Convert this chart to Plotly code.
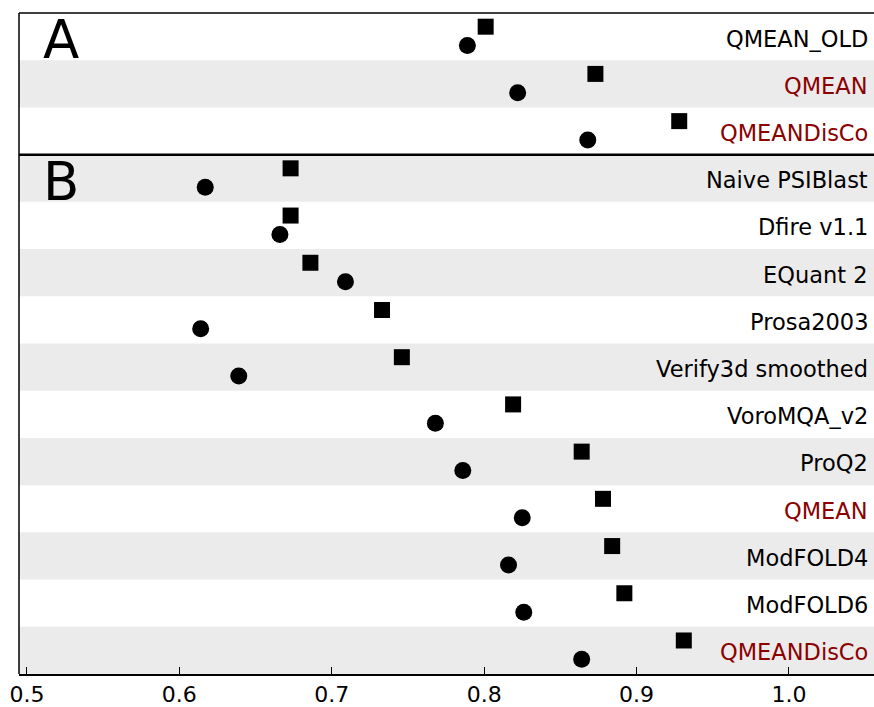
import plotly.graph_objects as go

labels = ["QMEAN_OLD", "QMEAN", "QMEANDisCo",
          "Naive PSIBlast", "Dfire v1.1", "EQuant 2", "Prosa2003",
          "Verify3d smoothed", "VoroMQA_v2", "ProQ2", "QMEAN",
          "ModFOLD4", "ModFOLD6", "QMEANDisCo"]
highlight = [False, True, True,
             False, False, False, False,
             False, False, False, True,
             False, False, True]
square_vals = [0.801, 0.873, 0.928,
               0.673, 0.673, 0.686, 0.733, 0.746, 0.819, 0.864,
               0.878, 0.884, 0.892, 0.931]
circle_vals = [0.789, 0.822, 0.868,
               0.617, 0.666, 0.709, 0.614, 0.639, 0.768, 0.786,
               0.825, 0.816, 0.826, 0.864]
x_ticks = [0.5, 0.6, 0.7, 0.8, 0.9, 1.0]
tick_text = ["0.5", "0.6", "0.7", "0.8", "0.9", "1.0"]
panel_labels = ["A", "B"]
panel_rows = [0, 3]

n = len(labels)
rows = list(range(n))

fig = go.Figure()

shapes = []
for i in rows:
    if i % 2 == 1:
        shapes.append(dict(type="rect", xref="paper", yref="y", x0=0, x1=1,
                           y0=i - 0.5, y1=i + 0.5, fillcolor="#EBEBEB",
                           line=dict(width=0), layer="below"))
# separator between panels
shapes.append(dict(type="line", xref="paper", yref="y", x0=0, x1=1,
                   y0=2.5, y1=2.5, line=dict(color="black", width=2.5)))
# frame: top and left
shapes.append(dict(type="line", xref="paper", yref="paper", x0=0, x1=1,
                   y0=1, y1=1, line=dict(color="black", width=1.5)))
shapes.append(dict(type="line", xref="paper", yref="paper", x0=0, x1=0,
                   y0=0, y1=1, line=dict(color="black", width=1.5)))

fig.add_trace(go.Scatter(
    x=square_vals, y=[r - 0.21 for r in rows], mode="markers",
    marker=dict(symbol="square", size=16, color="black"),
    showlegend=False, hoverinfo="skip"))
fig.add_trace(go.Scatter(
    x=circle_vals, y=[r + 0.19 for r in rows], mode="markers",
    marker=dict(symbol="circle", size=17, color="black"),
    showlegend=False, hoverinfo="skip"))

annotations = []
for i, (lab, hl) in enumerate(zip(labels, highlight)):
    annotations.append(dict(
        x=0.9955, xref="paper", y=i + 0.04, yref="y", text=lab,
        showarrow=False, xanchor="right", yanchor="middle",
        font=dict(family="DejaVu Sans", size=22.5,
                  color="#8B0000" if hl else "black")))
for lab, r in zip(panel_labels, panel_rows):
    annotations.append(dict(
        x=0.049, xref="paper", y=r + 0.06, yref="y", text=lab,
        showarrow=False, xanchor="center", yanchor="middle",
        font=dict(family="DejaVu Sans", size=53, color="black")))

fig.update_layout(
    width=874, height=707,
    margin=dict(l=19, r=0, t=13, b=27),
    paper_bgcolor="white", plot_bgcolor="white",
    shapes=shapes, annotations=annotations,
    xaxis=dict(range=[0.4948, 1.0558], tickvals=x_ticks, ticktext=tick_text,
               ticks="inside", ticklen=7, tickwidth=1, tickcolor="black",
               showgrid=False, zeroline=False, showline=True,
               linecolor="black", linewidth=2,
               tickfont=dict(family="DejaVu Sans", size=22, color="black")),
    yaxis=dict(range=[n - 0.5, -0.5], showticklabels=False, ticks="",
               showgrid=False, zeroline=False, showline=False),
)

fig.write_html("out.html")
